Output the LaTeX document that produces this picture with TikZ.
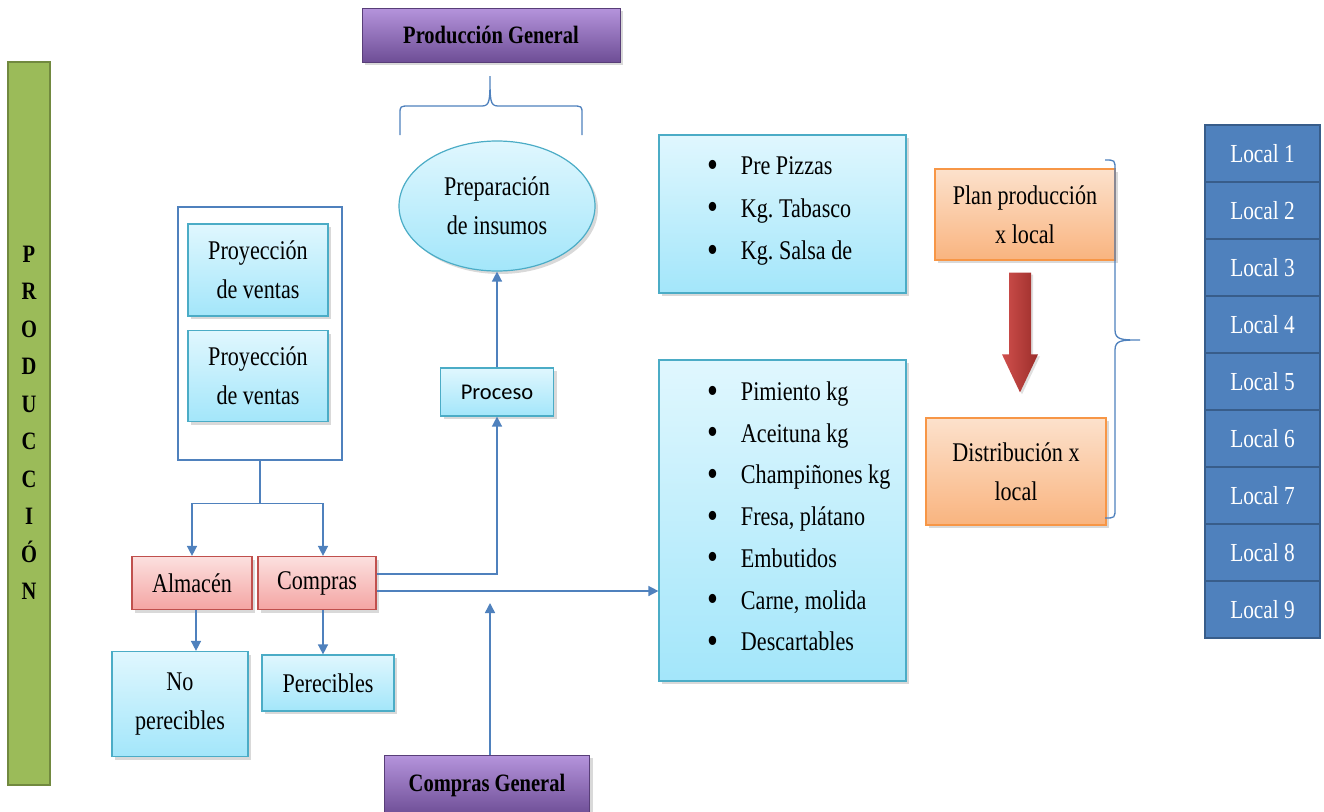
\documentclass[tikz,border=0pt]{standalone}
\usepackage{fontspec}
\setmainfont{Liberation Serif}[FakeStretch=0.82]
\newfontfamily\calibrifont{Carlito}
\usetikzlibrary{positioning,calc,shadows,shapes.geometric,decorations.pathreplacing,arrows.meta}
\frenchspacing

\definecolor{lineblue}{HTML}{4F81BD}
\definecolor{skytop}{HTML}{E0F7FE}
\definecolor{skybot}{HTML}{A3E6FA}
\definecolor{skyline}{HTML}{4BACC6}
\definecolor{pinktop}{HTML}{FCE0DF}
\definecolor{pinkbot}{HTML}{F4A5A3}
\definecolor{pinkline}{HTML}{C0504D}
\definecolor{orangetop}{HTML}{FCE1CC}
\definecolor{orangebot}{HTML}{F9B47F}
\definecolor{orangeline}{HTML}{F79646}
\definecolor{violettop}{HTML}{B594DC}
\definecolor{violetbot}{HTML}{6E4E96}
\definecolor{localfill}{HTML}{4F81BD}
\definecolor{localline}{HTML}{385D8A}
\definecolor{leaf}{HTML}{9BBB59}
\definecolor{leafline}{HTML}{71893F}
\definecolor{arrowred}{HTML}{D0504D}
\definecolor{arrowdark}{HTML}{9B2D2A}

\newcommand{\itemdot}{\makebox[33pt][l]{\raisebox{-2.5pt}{\fontsize{38}{0}\selectfont\textbullet}}}

\tikzset{
  softshadow/.style={drop shadow={opacity=0.3,shadow xshift=3pt,shadow yshift=-3pt}},
  skybox/.style={draw=skyline, line width=1.2pt, top color=skytop, bottom color=skybot,
    softshadow, align=center, font=\fontsize{27}{39}\selectfont, inner sep=2pt},
  pinkbox/.style={draw=pinkline, line width=1.2pt, top color=pinktop, bottom color=pinkbot,
    softshadow, align=center, font=\fontsize{27}{39}\selectfont},
  orangebox/.style={draw=orangeline, line width=1.2pt, top color=orangetop, bottom color=orangebot,
    softshadow, align=center, font=\fontsize{27}{39}\selectfont},
  violetbox/.style={draw=violetbot!80!black, line width=1pt, top color=violettop, bottom color=violetbot,
    softshadow, font=\bfseries\fontsize{25}{30}\selectfont},
  localbox/.style={draw=localline, line width=2pt, fill=localfill, text=white,
    minimum width=115pt, minimum height=57pt, font=\fontsize{26}{30}\selectfont},
  flow/.style={draw=lineblue, line width=1.5pt, -{Triangle[length=10pt,width=10pt]}},
  plainline/.style={draw=lineblue, line width=1.5pt},
  curly/.style={draw=lineblue, line width=1.3pt}
}

\begin{document}
\begin{tikzpicture}[x=1pt,y=-1pt]

    \useasboundingbox (0,0) rectangle (1324,811);

    \node[draw=leafline, line width=2pt, fill=leaf, minimum width=42pt, minimum height=723pt,
      align=center, font=\bfseries\fontsize{25}{37.5}\selectfont] (prod) at (29,423)
      {P\\R\\O\\D\\U\\C\\C\\I\\Ó\\N};

    \node[violetbox, minimum width=258pt, minimum height=54pt] (prod general) at (491,35) {Producción General};
    \node[violetbox, minimum width=205pt, minimum height=60pt] (compras general) at (487,785) {Compras General};

    \node[skybox, ellipse, minimum width=196pt, minimum height=130pt] (prep) at (497,206) {Preparación\\de insumos};
    \node[skybox, minimum width=113pt, minimum height=48pt, font=\calibrifont\fontsize{22.5}{26}\selectfont] (proceso) at (497,392) {Proceso};

    \node[draw=lineblue, line width=1.2pt, minimum width=164pt, minimum height=253pt] (ventas) at (260,333.5) {};
    \node[skybox, minimum width=140pt, minimum height=92pt] (proy 1) at (258,270) {Proyección\\de ventas};
    \node[skybox, minimum width=140pt, minimum height=91pt] (proy 2) at (258,376) {Proyección\\de ventas};

    \node[pinkbox, minimum width=120pt, minimum height=53pt] (almacen) at (192,583) {Almacén};
    \node[pinkbox, minimum width=118pt, minimum height=53pt] (compras) at (317,583) {Compras};
    \node[skybox, minimum width=136pt, minimum height=105pt] (no perecibles) at (180,704) {No\\perecibles};
    \node[skybox, minimum width=132pt, minimum height=56pt] (perecibles) at (328,683) {Perecibles};

    \node[skybox, minimum width=247pt, minimum height=158pt] (list 1) at (782.5,214) {};
    \node[anchor=west, align=left, font=\fontsize{27}{42.5}\selectfont] (items 1) at ([xshift=46pt,yshift=3pt]list 1.west)
      {\itemdot Pre Pizzas\\
       \itemdot Kg. Tabasco\\
       \itemdot Kg. Salsa de};

    \node[skybox, minimum width=247pt, minimum height=321pt] (list 2) at (782.5,520.5) {};
    \node[anchor=west, align=left, font=\fontsize{27}{41.7}\selectfont] (items 2) at ([xshift=46pt,yshift=3pt]list 2.west)
      {\itemdot Pimiento kg\\
       \itemdot Aceituna kg\\
       \itemdot Champiñones kg\\
       \itemdot Fresa, plátano\\
       \itemdot Embutidos\\
       \itemdot Carne, molida\\
       \itemdot Descartables};

    \node[orangebox, minimum width=180pt, minimum height=91pt] (plan) at (1025,214.5) {Plan producción\\x local};
    \node[orangebox, minimum width=180pt, minimum height=107pt] (distribucion) at (1016,471.5) {Distribución x\\local};

    \coordinate (arrow top) at ($(plan.south)+(-5,12)$);
    \coordinate (arrow tip) at ($(distribucion.north)+(4,-25)$);
    \shade[left color=arrowred, right color=arrowdark, drop shadow={opacity=0.25,shadow xshift=2pt,shadow yshift=-2pt}]
      ($(arrow top)+(-11,0)$) -- ($(arrow top)+(11,0)$) -- ($(arrow tip)+(11,-38)$) -- ($(arrow tip)+(18,-38)$)
      -- (arrow tip) -- ($(arrow tip)+(-18,-38)$) -- ($(arrow tip)+(-11,-38)$) -- cycle;

    \foreach \x in {1,...,9}
    \node[localbox] (local \x) at (1262.5,{96.5+57*\x}) {Local \x};

    \coordinate (fork) at ($(ventas.south)+(0,43)$);
    \draw[plainline] (ventas.south) -- (fork);
    \draw[flow] (fork) -| (almacen.north);
    \draw[flow] (fork) -| ([xshift=6pt]compras.north);
    \draw[flow] ([xshift=4pt]almacen.south) -- ([xshift=4pt]almacen.south |- no perecibles.north);
    \draw[flow] ([xshift=6pt]compras.south) -- ([xshift=6pt]compras.south |- perecibles.north);

    \draw[flow] ([yshift=9pt]compras.east) -| (proceso.south);
    \draw[flow] ([yshift=-8pt]compras.east) -- ([yshift=-8pt]compras.east -| list 2.west);
    \draw[flow] (proceso.north) -- (prep.south);

    \coordinate (compras tip) at ([xshift=3pt]compras general.north |- 0,603);
    \draw[flow] ([xshift=3pt]compras general.north) -- (compras tip);

    \coordinate (brace left) at (400,135);
    \coordinate (brace right) at (582,135);
    \coordinate (brace peak) at (490,76);
    \draw[curly] (brace left) -- (400,114) .. controls (400,106) .. (410,106) -- (482,106)
      .. controls (490,106) and (490,100) .. (brace peak)
      .. controls (490,100) and (490,106) .. (498,106) -- (572,106)
      .. controls (582,106) .. (582,114) -- (brace right);

    \coordinate (brace top) at (1105,160);
    \coordinate (brace bottom) at (1105,518);
    \coordinate (brace point) at (1140,340);
    \draw[curly] (brace top) .. controls (1115,160) .. (1115,170) -- (1115,330)
      .. controls (1115,340) and (1122,340) .. (brace point)
      .. controls (1122,340) and (1115,340) .. (1115,350) -- (1115,508)
      .. controls (1115,518) .. (brace bottom);

\end{tikzpicture}
\end{document}
